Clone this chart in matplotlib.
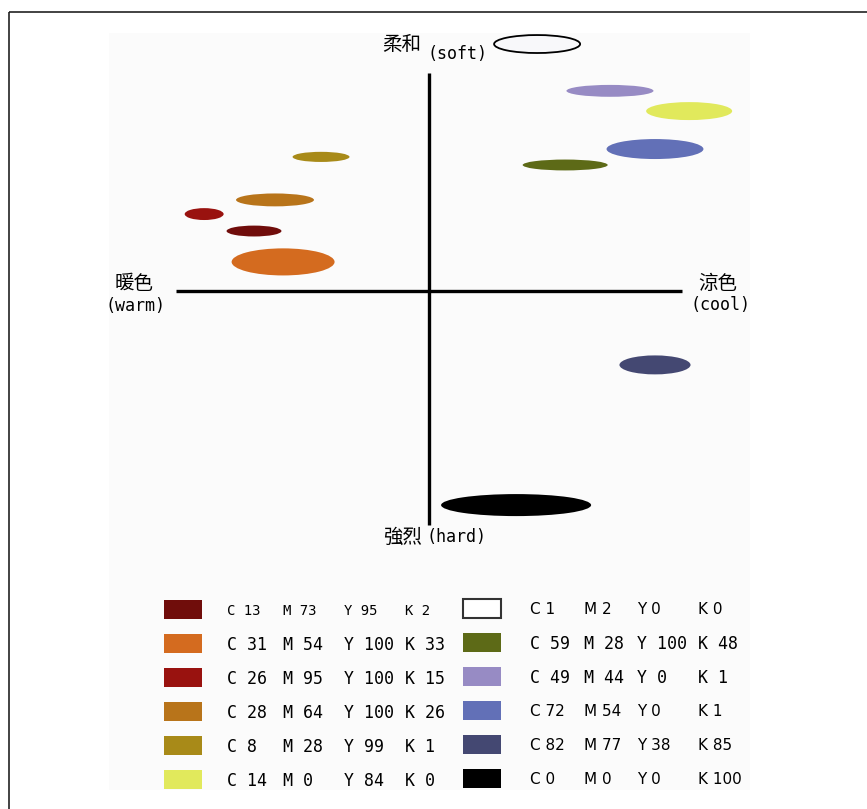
import matplotlib
matplotlib.use("Agg")
import matplotlib.pyplot as plt
from matplotlib.patches import Ellipse, Rectangle

plt.rcParams['font.family'] = ['DejaVu Sans Mono', 'Noto Sans CJK TC']

# colour positions: x = warm(-) / cool(+), y = hard(-) / soft(+)
names = ['c1', 'c2', 'c3', 'c4', 'c5', 'c6', 'c7', 'c8', 'c9', 'c10', 'c11', 'c12']
colors = ['#f8f8fa', '#978bc4', '#e1e95c', '#6270b7', '#5d6a17', '#a88a18',
          '#b8741a', '#99120f', '#700d0b', '#d46b1f', '#444872', '#000000']
pos_x = [42.7, 71.5, 102.8, 89.3, 53.8, -42.7, -60.9, -88.9, -69.2, -57.7, 89.3, 34.4]
pos_y = [97.6, 79.1, 71.1, 56.1, 49.8, 53.0, 36.0, 30.4, 23.7, 11.5, -29.2, -84.6]
spread_x = [34.0, 34.4, 34.0, 38.3, 33.6, 22.5, 30.8, 15.4, 21.7, 40.7, 28.1, 59.3]
spread_y = [7.1, 4.7, 7.1, 7.9, 4.3, 4.0, 5.1, 4.7, 4.3, 10.7, 7.5, 8.7]

# legend (CMYK values)
left_colors = ['#700d0b', '#d46b1f', '#99120f', '#b8741a', '#a88a18', '#e1e95c']
left_cmyk = [[13, 73, 95, 2], [31, 54, 100, 33], [26, 95, 100, 15],
             [28, 64, 100, 26], [8, 28, 99, 1], [14, 0, 84, 0]]
right_colors = ['#ffffff', '#5d6a17', '#978bc4', '#6270b7', '#444872', '#000000']
right_cmyk = [[1, 2, 0, 0], [59, 28, 100, 48], [49, 44, 0, 1],
              [72, 54, 0, 1], [82, 77, 38, 85], [0, 0, 0, 100]]

fig = plt.figure(figsize=(8.67, 8.09), dpi=100)

# background canvas (frame, panel, legend)
bg = fig.add_axes([0, 0, 1, 1])
bg.set_xlim(0, 867)
bg.set_ylim(809, 0)
bg.axis('off')
bg.add_patch(Rectangle((9, 12), 900, 850, fill=False, ec='#222222', lw=1.2))
bg.add_patch(Rectangle((109, 33), 641, 757, fc='#fbfbfb', ec='none'))

# main chart
ax = fig.add_axes([0, 0, 1, 1])
ax.set_xlim(-169.6, 173.1)
ax.set_ylim(-204.7, 115.0)
ax.patch.set_alpha(0)
ax.axis('off')

ax.plot([-100, 100], [0, 0], color='black', lw=2.4, solid_capstyle='butt')
ax.plot([0, 0], [-92.5, 86.2], color='black', lw=2.4, solid_capstyle='butt')

for i in range(len(names)):
    e = Ellipse((pos_x[i], pos_y[i]), spread_x[i], spread_y[i], fc=colors[i],
                ec='black' if i == 0 else 'none', lw=1.3)
    ax.add_patch(e)

fs = 12
cj = 14
ax.text(-10.7, 97.6, '柔和', fontsize=cj, ha='center', va='center')
ax.text(11.1, 93.6, '(soft)', fontsize=fs, ha='center', va='center')
ax.text(-116.6, 2.8, '暖色', fontsize=cj, ha='center', va='center')
ax.text(-116.2, -5.9, '(warm)', fontsize=fs, ha='center', va='center')
ax.text(114.2, 2.8, '涼色', fontsize=cj, ha='center', va='center')
ax.text(115.0, -5.5, '(cool)', fontsize=fs, ha='center', va='center')
ax.text(-10.3, -97.4, '強烈', fontsize=cj, ha='center', va='center')
ax.text(10.7, -97.4, '(hard)', fontsize=fs, ha='center', va='center')

# legend
row_y = [609 + 34 * i for i in range(6)]
left_x = [227, 283, 344, 405]
right_x = [530, 584, 637, 698]
letters = ['C', 'M', 'Y', 'K']
narrow = ['Liberation Sans Narrow', 'DejaVu Sans']

for i in range(6):
    y = row_y[i]
    bg.add_patch(Rectangle((164, y - 9.5), 38, 19, fc=left_colors[i], ec='none'))
    for j in range(4):
        size = 10 if i == 0 else 12
        bg.text(left_x[j], y + 2, letters[j] + ' ' + str(left_cmyk[i][j]),
                fontsize=size, ha='left', va='center', color='black')

    bg.add_patch(Rectangle((463, y - 10.5), 38, 19, fc=right_colors[i],
                           ec='#333333' if i == 0 else 'none', lw=1.5))
    for j in range(4):
        if i in (1, 2):
            bg.text(right_x[j], y + 1, letters[j] + ' ' + str(right_cmyk[i][j]),
                    fontsize=12, ha='left', va='center', color='black')
        else:
            bg.text(right_x[j], y + 1, letters[j] + ' ' + str(right_cmyk[i][j]),
                    fontsize=11, ha='left', va='center', color='black',
                    family=narrow)

fig.savefig('out.png', dpi=100)
